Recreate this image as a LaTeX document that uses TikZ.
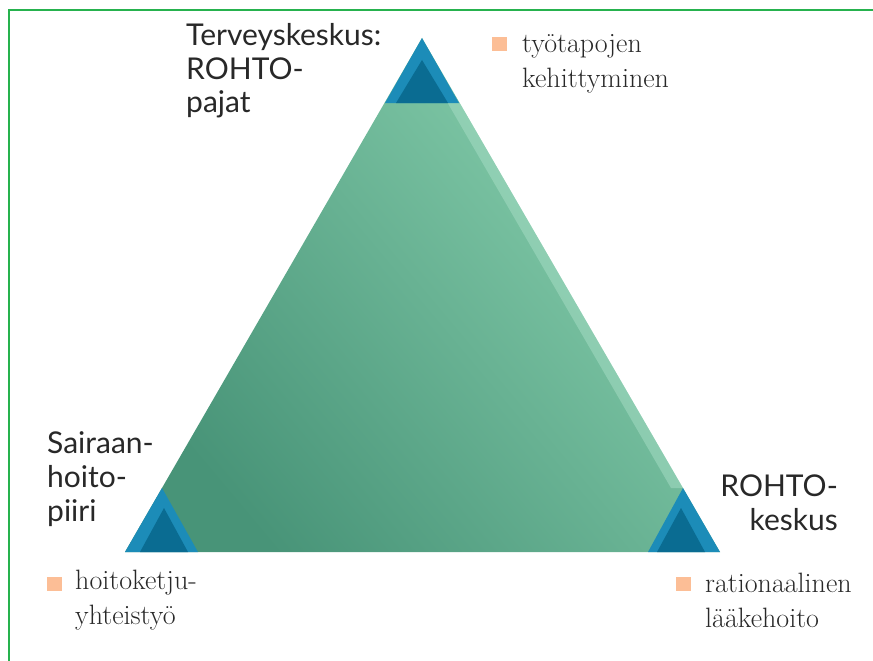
\documentclass[tikz,border=0pt]{standalone}
\usepackage{fontspec}
\newfontfamily\labelfont{Lato}
\usetikzlibrary{positioning}
\definecolor{framegreen}{RGB}{38,178,78}
\definecolor{textgray}{RGB}{40,40,40}
\definecolor{bulletorange}{RGB}{252,190,150}
\definecolor{darkgreen}{RGB}{72,148,120}
\definecolor{lightgreen}{RGB}{136,208,174}
\definecolor{edgegreen}{RGB}{168,222,198}
\definecolor{rimblue}{RGB}{28,140,184}
\definecolor{coreblue}{RGB}{10,108,146}

\begin{document}
\begin{tikzpicture}[x=1pt,y=-1pt,
      place/.style={
         font=\labelfont\fontsize{30}{34}\selectfont,
         text=textgray,
         inner sep=0pt
      },
      item/.style={
         font=\fontsize{28}{35}\selectfont,
         text=textgray,
         inner sep=0pt,
         align=left
      },
      bullet/.style={
         fill=bulletorange,
         minimum width=15pt,
         minimum height=14pt,
         inner sep=0pt
      },
      rim/.style={fill=rimblue},
      core/.style={fill=coreblue}
    ]
    \useasboundingbox (0,0) rectangle (873,661);
    % frame
    \draw[framegreen, line width=1.8pt] (9,661) -- (9,10) -- (873,10);
    % big triangle
    \coordinate (apex) at (422,38);
    \coordinate (bl) at (125,552);
    \coordinate (br) at (720,552);
    \shade[left color=darkgreen, right color=lightgreen, shading angle=130]
       (apex) -- (bl) -- (br) -- cycle;
    \fill[edgegreen, opacity=0.5] (459.7,103) -- (683,488) -- (671,488) -- (447.7,103) -- cycle;
    % corners
    \fill[rim] (apex) -- (385,103) -- (459,103) -- cycle;
    \fill[core] (422,60) -- (396,103) -- (448,103) -- cycle;
    \fill[rim] (162,488) -- (bl) -- (198,552) -- cycle;
    \fill[core] (164,508) -- (140,552) -- (188,552) -- cycle;
    \fill[rim] (683,488) -- (648,552) -- (br) -- cycle;
    \fill[core] (681,508) -- (657,552) -- (705,552) -- cycle;
    % places
    \node (tk) [place, align=left, anchor=base west] at (186,113)
       {Terveyskeskus:\\ROHTO-\\pajat};
    \node (shp) [place, align=left, anchor=base west] at (47,521)
       {Sairaan-\\hoito-\\piiri};
    \node (rk) [place, align=right, anchor=base east] at (838,530)
       {ROHTO-\\keskus};
    % items
    \node (b1) [bullet] at (499.5,44) {};
    \node (i1) [item, anchor=base west] at (522,88) {työtapojen\\kehittyminen};
    \node (b2) [bullet] at (54.5,584) {};
    \node (i2) [item, anchor=base west] at (75,624) {hoitoketju-\\yhteistyö};
    \node (b3) [bullet] at (683.5,583.5) {};
    \node (i3) [item, anchor=base west] at (705,627) {rationaalinen\\lääkehoito};
\end{tikzpicture}
\end{document}
